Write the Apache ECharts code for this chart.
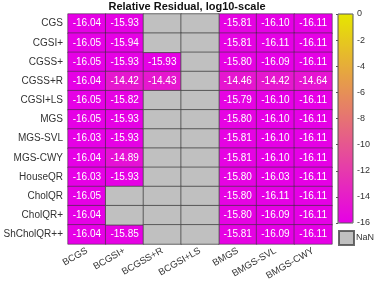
<!DOCTYPE html>
<html><head><meta charset="utf-8">
<script src="https://cdn.jsdelivr.net/npm/echarts@6/dist/echarts.min.js"></script>
<style>html,body{margin:0;padding:0;background:#fff}#c{width:374px;height:283px}</style>
</head><body><div id="c"></div>
<script>
const rows = ['CGS','CGSI+','CGSS+','CGSS+R','CGSI+LS','MGS','MGS-SVL','MGS-CWY','HouseQR','CholQR','CholQR+','ShCholQR++'];
const cols = ['BCGS','BCGSI+','BCGSS+R','BCGSI+LS','BMGS','BMGS-SVL','BMGS-CWY'];
const N = null;
const rCGS     = [-16.04, -15.93, N, N, -15.81, -16.10, -16.11];
const rCGSIp   = [-16.05, -15.94, N, N, -15.81, -16.11, -16.11];
const rCGSSp   = [-16.05, -15.93, -15.93, N, -15.80, -16.09, -16.11];
const rCGSSpR  = [-16.04, -14.42, -14.43, N, -14.46, -14.42, -14.64];
const rCGSIpLS = [-16.05, -15.82, N, N, -15.79, -16.10, -16.11];
const rMGS     = [-16.05, -15.93, N, N, -15.80, -16.10, -16.11];
const rMGSSVL  = [-16.03, -15.93, N, N, -15.81, -16.10, -16.11];
const rMGSCWY  = [-16.04, -14.89, N, N, -15.81, -16.10, -16.11];
const rHouse   = [-16.03, -15.93, N, N, -15.80, -16.03, -16.11];
const rChol    = [-16.05, N, N, N, -15.80, -16.11, -16.11];
const rCholP   = [-16.04, N, N, N, -15.80, -16.09, -16.11];
const rShChol  = [-16.04, -15.85, N, N, -15.81, -16.09, -16.11];
const table = [rCGS, rCGSIp, rCGSSp, rCGSSpR, rCGSIpLS, rMGS, rMGSSVL, rMGSCWY, rHouse, rChol, rCholP, rShChol];
const cbTicks = [0,-2,-4,-6,-8,-10,-12,-14,-16];

const vals = [], nans = [];
table.forEach((r, i) => r.forEach((v, j) => {
  if (v === null) nans.push([j, i, 0]); else vals.push([j, i, v]);
}));

const chart = echarts.init(document.getElementById('c'), null, {renderer:'canvas'});
chart.setOption({
  animation: false,
  title: [
    {text: 'Relative Residual, log10-scale', left: 187, top: 1, textAlign: 'center', padding: 0,
      textStyle: {fontFamily: 'Liberation Sans', fontSize: 11, fontWeight: 'bold', color: '#111'}},
    {text: 'NaN', left: 356, top: 233, padding: 0,
      textStyle: {fontFamily: 'Liberation Sans', fontSize: 9, fontWeight: 'normal', color: '#333'}}
  ],
  grid: [
    {left: 68, top: 14, width: 264, height: 230, show: false},
    {left: 338, top: 14, width: 15, height: 209, show: true, borderColor: '#555', borderWidth: 1, backgroundColor: 'transparent', z: 10}
  ],
  xAxis: [
    {type: 'category', data: cols, gridIndex: 0, axisLine: {show: false}, axisTick: {show: false}, splitLine: {show: false},
      axisLabel: {rotate: 30, margin: 6, fontFamily: 'Liberation Sans', fontSize: 9.5, color: '#333', interval: 0}},
    {type: 'value', gridIndex: 1, show: false, min: 0, max: 1}
  ],
  yAxis: [
    {type: 'category', data: rows, gridIndex: 0, inverse: true, axisLine: {show: false}, axisTick: {show: false}, splitLine: {show: false},
      axisLabel: {margin: 5, fontFamily: 'Liberation Sans', fontSize: 10, color: '#333', interval: 0}},
    {type: 'value', gridIndex: 1, position: 'right', min: -16, max: 0, interval: 2,
      axisLine: {show: false}, splitLine: {show: false},
      axisTick: {show: true, inside: true, length: 2, lineStyle: {color: '#555'}},
      axisLabel: {margin: 4, fontFamily: 'Liberation Sans', fontSize: 9, color: '#333',
        formatter: v => cbTicks.includes(v) ? String(v) : ''}}
  ],
  visualMap: {type: 'continuous', min: -16, max: 0, seriesIndex: 0, orient: 'vertical',
    left: 338, top: 14, itemWidth: 15, itemHeight: 209, padding: 0, calculable: false, showLabel: false,
    text: null, inRange: {color: ['#e600e6', '#e6e600']}},
  legend: {data: [{name: 'NaN', icon: 'rect'}], left: 338, top: 230, padding: 0, itemWidth: 15, itemHeight: 14,
    itemGap: 4, selectedMode: false, formatter: () => ' ',
    textStyle: {fontSize: 1, color: 'rgba(0,0,0,0)'}},
  series: [
    {type: 'heatmap', name: 'vals', xAxisIndex: 0, yAxisIndex: 0, data: vals,
      itemStyle: {borderColor: 'rgba(50,50,50,0.55)', borderWidth: 1},
      label: {show: true, color: '#fff', fontFamily: 'Liberation Sans', fontSize: 10,
        formatter: p => p.value[2].toFixed(2)}},
    {type: 'heatmap', name: 'NaN', xAxisIndex: 0, yAxisIndex: 0, data: nans,
      itemStyle: {color: '#c0c0c0', borderColor: 'rgba(70,70,70,0.8)', borderWidth: 1}, label: {show: false}}
  ]
});
</script></body></html>
